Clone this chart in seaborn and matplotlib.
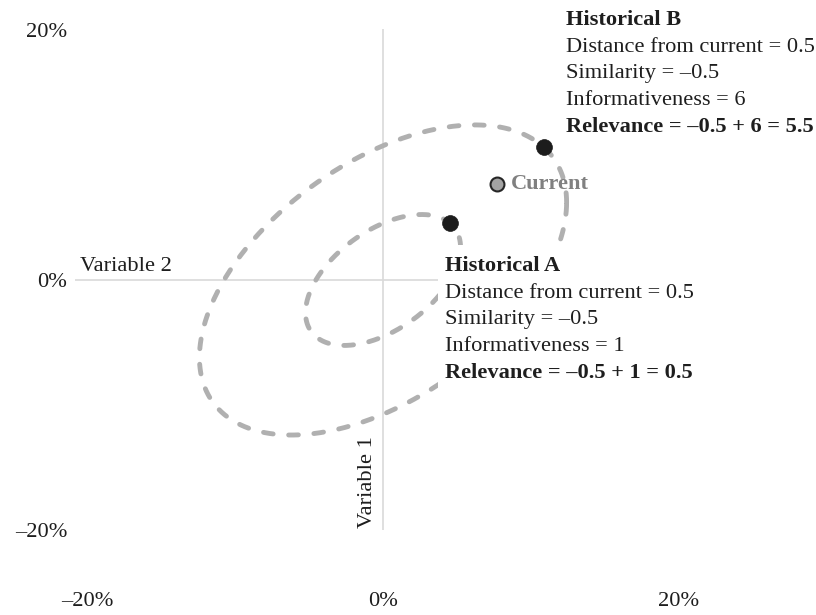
import numpy as np
import pandas as pd
import matplotlib
matplotlib.use("Agg")
import matplotlib.pyplot as plt
import seaborn as sns
from matplotlib.patches import Rectangle

# Points (percent)
point_names = ["Historical A", "Historical B", "Current"]
point_x = [4.53, 10.86, 7.68]
point_y = [4.54, 10.62, 7.66]

# Shape of the distribution behind the contours
sigma_1 = 12.5
sigma_2 = 12.5
rho = 0.5

tick_values = [-20, 0, 20]
tick_labels = ["\u201320%", "0%", "20%"]

lines_a = ["Historical A", "Distance from current = 0.5", "Similarity = \u20130.5",
           "Informativeness = 1", "Relevance = \u20130.5 + 1 = 0.5"]
lines_b = ["Historical B", "Distance from current = 0.5", "Similarity = \u20130.5",
           "Informativeness = 6", "Relevance = \u20130.5 + 6 = 5.5"]
bold_rows = [0, 4]

sns.set_theme(style="white")
plt.rcParams["font.family"] = ["Liberation Serif", "DejaVu Serif"]
plt.rcParams["font.size"] = 16.1

points = pd.DataFrame({"name": point_names, "x": point_x, "y": point_y})

fig = plt.figure(figsize=(8.16, 6.15), dpi=100)
ax = fig.add_axes([0.0885, 0.1179, 0.9069, 0.8537])
ax.set_xlim(-21, 29)
ax.set_ylim(-21, 21)

# axis cross
ax.hlines(0, -20.8, 20, color="#d9d9d9", lw=1.2, zorder=1)
ax.vlines(0, -20, 20.1, color="#d9d9d9", lw=1.2, zorder=1)

# contours through each historical point (Mahalanobis distance from the origin)
cov = np.array([[sigma_1 ** 2, rho * sigma_1 * sigma_2],
                [rho * sigma_1 * sigma_2, sigma_2 ** 2]])
cov_inv = np.linalg.inv(cov)
chol = np.linalg.cholesky(cov)
t = np.linspace(0, 2 * np.pi, 400)
circle = np.vstack([np.cos(t), np.sin(t)])
hist = points[points["name"] != "Current"]
for _, row in hist.iterrows():
    v = np.array([row["x"], row["y"]])
    r = np.sqrt(v @ cov_inv @ v)
    ell = r * (chol @ circle)
    ax.plot(ell[0], ell[1], color="#b0b0b0", lw=3.5, linestyle=(0, (2.0, 3.2)),
            dash_capstyle="round", zorder=2)

# white panel behind the Historical A text
ax.add_patch(Rectangle((3.72, -8.64), 16.8, 11.44, facecolor="white",
                       edgecolor="none", zorder=3))

sns.scatterplot(data=hist, x="x", y="y", ax=ax, s=130, color="#1c1c1c",
                edgecolor="#1c1c1c", linewidth=0.5, zorder=4, legend=False)
cur = points[points["name"] == "Current"]
sns.scatterplot(data=cur, x="x", y="y", ax=ax, s=100, color="#a3a3a3",
                edgecolor="#262626", linewidth=1.5, zorder=4, legend=False)
ax.annotate("Current", (cur["x"].iloc[0], cur["y"].iloc[0]), xytext=(10.5, 0),
            textcoords="offset points", ha="left", va="center",
            fontweight="bold", color="#808080", zorder=5)

def text_block(x0, y0, rows):
    for i, s in enumerate(rows):
        ax.text(x0, y0 - 2.14 * i, s, ha="left", va="baseline",
                fontweight="bold" if i in bold_rows else "normal",
                color="#1e1e1e", zorder=5)

text_block(4.19, 0.72, lines_a)
text_block(12.36, 20.4, lines_b)

ax.text(-20.47, 0.72, "Variable 2", ha="left", va="baseline", color="#1e1e1e")
ax.text(-0.4, -19.84, "Variable 1", rotation=90, ha="right", va="bottom",
        color="#1e1e1e")

ax.set_xticks(tick_values)
ax.set_xticklabels(tick_labels)
ax.set_yticks(tick_values)
ax.set_yticklabels(tick_labels)
ax.tick_params(axis="x", length=0, pad=36, labelsize=16.1, colors="#1e1e1e")
ax.tick_params(axis="y", length=0, pad=3.5, labelsize=16.1, colors="#1e1e1e")
ax.set_xlabel("")
ax.set_ylabel("")
for sp in ax.spines.values():
    sp.set_visible(False)
ax.grid(False)

fig.savefig("out.png", dpi=100)
